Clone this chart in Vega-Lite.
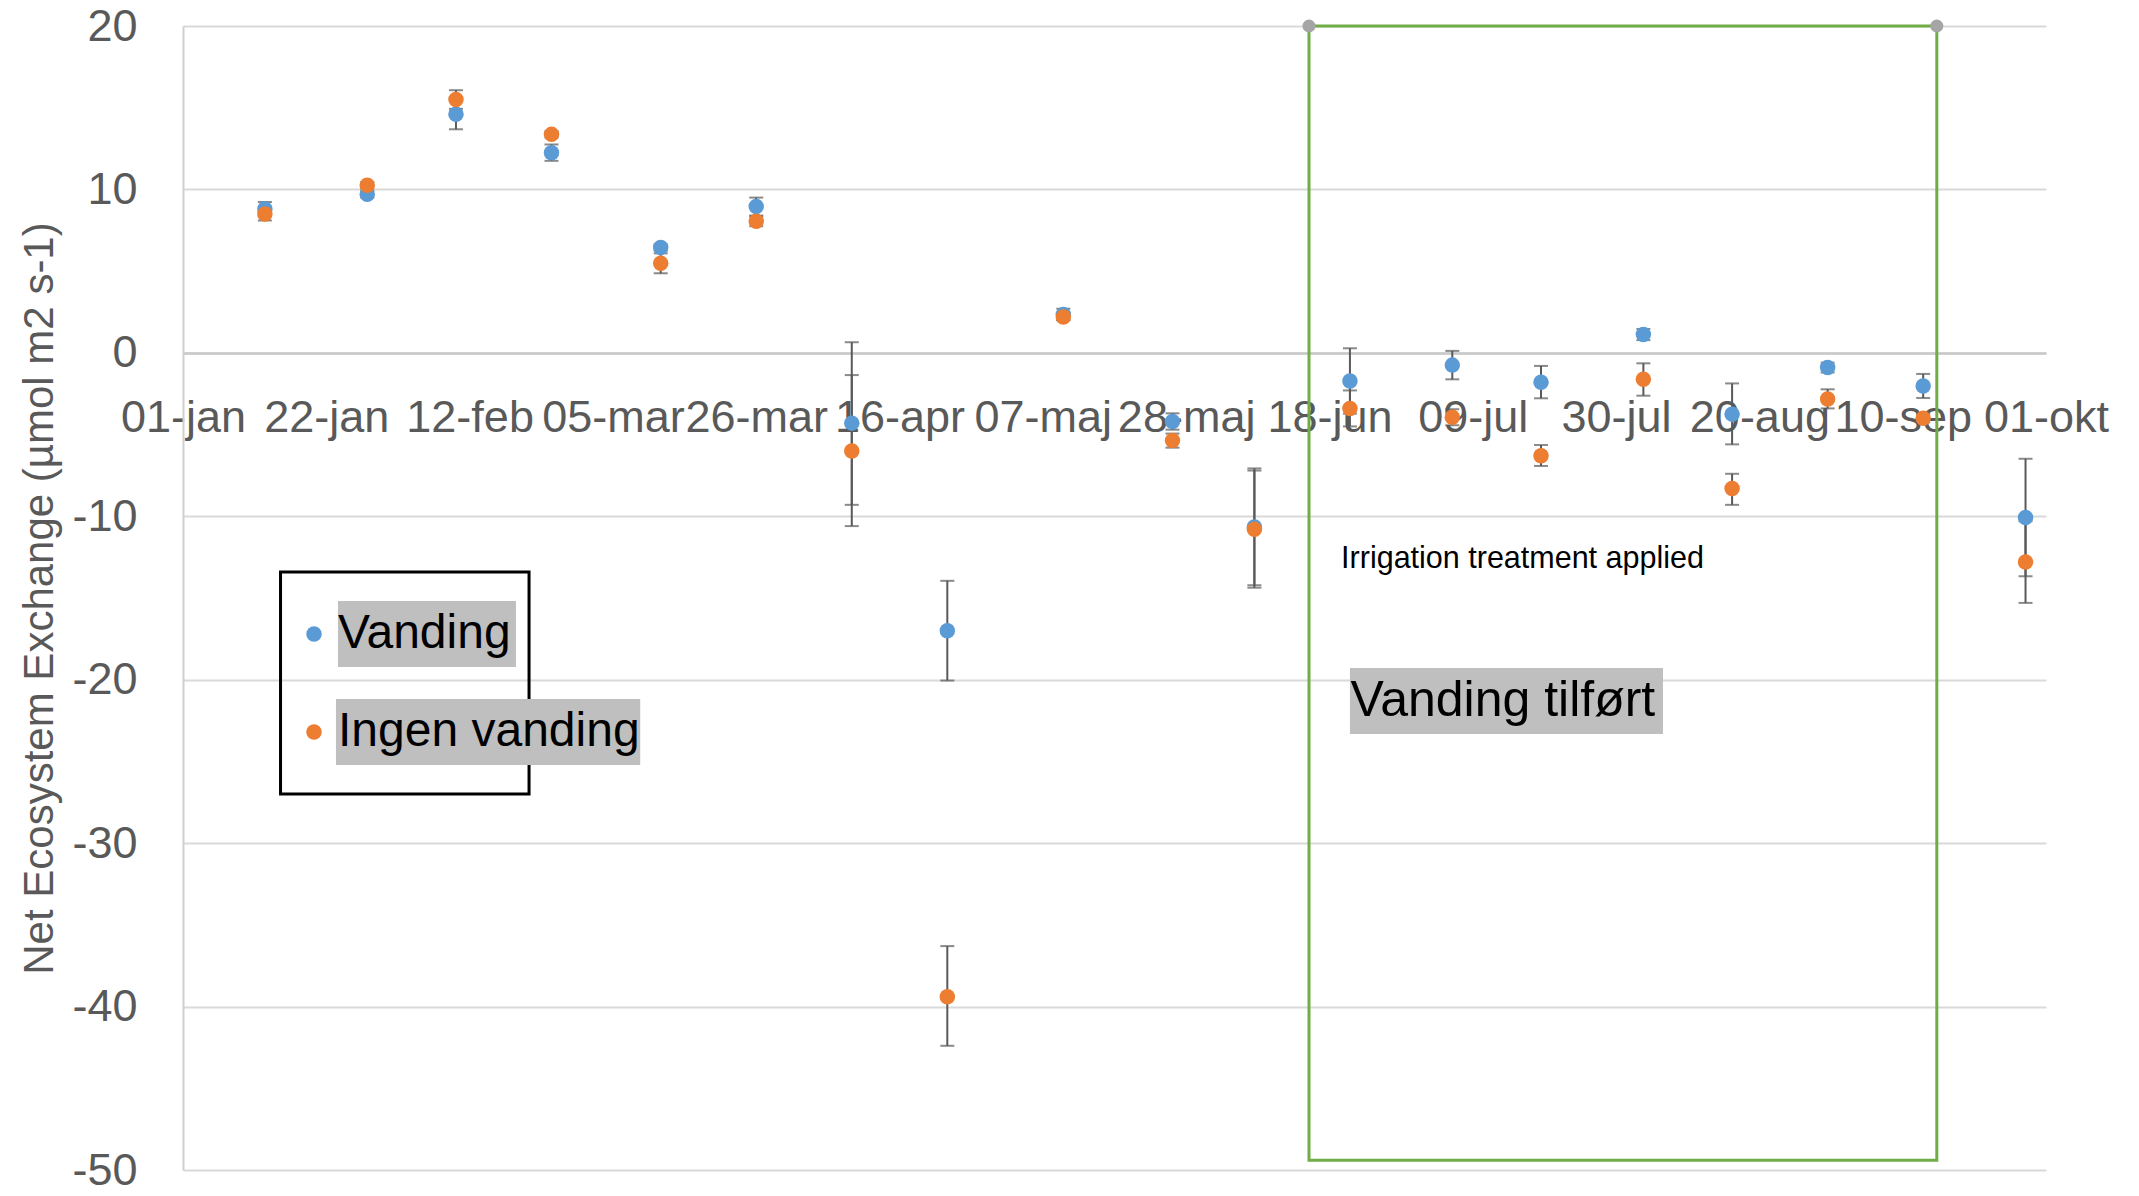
{
  "$schema": "https://vega.github.io/schema/vega-lite/v6.json",
  "width": 1863,
  "height": 1144,
  "autosize": {"type": "none"},
  "padding": {"left": 183, "top": 26, "right": 93, "bottom": 26},
  "background": "white",
  "config": {"view": {"stroke": null}, "font": "Liberation Sans"},
  "datasets": {
    "nee": [
      {"date": "2019-01-13", "series": "Vanding", "value": 8.8, "lo": 8.37, "hi": 9.23},
      {"date": "2019-01-28", "series": "Vanding", "value": 9.7, "lo": 9.5, "hi": 9.9},
      {"date": "2019-02-10", "series": "Vanding", "value": 14.6, "lo": 13.68, "hi": 15.52},
      {"date": "2019-02-24", "series": "Vanding", "value": 12.25, "lo": 11.75, "hi": 12.75},
      {"date": "2019-03-12", "series": "Vanding", "value": 6.45, "lo": 6.25, "hi": 6.65},
      {"date": "2019-03-26", "series": "Vanding", "value": 8.95, "lo": 8.4, "hi": 9.5},
      {"date": "2019-04-09", "series": "Vanding", "value": -4.3, "lo": -9.3, "hi": 0.65},
      {"date": "2019-04-23", "series": "Vanding", "value": -17.0, "lo": -20.05, "hi": -13.95},
      {"date": "2019-05-10", "series": "Vanding", "value": 2.35, "lo": 2.0, "hi": 2.7},
      {"date": "2019-05-26", "series": "Vanding", "value": -4.2, "lo": -4.7, "hi": -3.7},
      {"date": "2019-06-07", "series": "Vanding", "value": -10.65, "lo": -14.22, "hi": -7.07},
      {"date": "2019-06-21", "series": "Vanding", "value": -1.72, "lo": -3.72, "hi": 0.28},
      {"date": "2019-07-06", "series": "Vanding", "value": -0.75, "lo": -1.62, "hi": 0.12},
      {"date": "2019-07-19", "series": "Vanding", "value": -1.8, "lo": -2.78, "hi": -0.8},
      {"date": "2019-08-03", "series": "Vanding", "value": 1.12, "lo": 0.78, "hi": 1.46},
      {"date": "2019-08-16", "series": "Vanding", "value": -3.75, "lo": -5.6, "hi": -1.87},
      {"date": "2019-08-30", "series": "Vanding", "value": -0.9, "lo": -1.2, "hi": -0.6},
      {"date": "2019-09-13", "series": "Vanding", "value": -2.03, "lo": -2.76, "hi": -1.29},
      {"date": "2019-09-28", "series": "Vanding", "value": -10.07, "lo": -13.67, "hi": -6.48},
      {"date": "2019-01-13", "series": "Ingen vanding", "value": 8.5, "lo": 8.1, "hi": 8.9},
      {"date": "2019-01-28", "series": "Ingen vanding", "value": 10.25, "lo": 10.05, "hi": 10.45},
      {"date": "2019-02-10", "series": "Ingen vanding", "value": 15.5, "lo": 14.93, "hi": 16.07},
      {"date": "2019-02-24", "series": "Ingen vanding", "value": 13.37, "lo": 13.17, "hi": 13.57},
      {"date": "2019-03-12", "series": "Ingen vanding", "value": 5.48, "lo": 4.87, "hi": 6.09},
      {"date": "2019-03-26", "series": "Ingen vanding", "value": 8.05, "lo": 7.75, "hi": 8.35},
      {"date": "2019-04-09", "series": "Ingen vanding", "value": -6.0, "lo": -10.6, "hi": -1.36},
      {"date": "2019-04-23", "series": "Ingen vanding", "value": -39.4, "lo": -42.4, "hi": -36.3},
      {"date": "2019-05-10", "series": "Ingen vanding", "value": 2.2, "lo": 2.0, "hi": 2.4},
      {"date": "2019-05-26", "series": "Ingen vanding", "value": -5.37, "lo": -5.8, "hi": -4.94},
      {"date": "2019-06-07", "series": "Ingen vanding", "value": -10.8, "lo": -14.37, "hi": -7.2},
      {"date": "2019-06-21", "series": "Ingen vanding", "value": -3.4, "lo": -4.5, "hi": -2.3},
      {"date": "2019-07-06", "series": "Ingen vanding", "value": -3.94, "lo": -4.43, "hi": -3.45},
      {"date": "2019-07-19", "series": "Ingen vanding", "value": -6.29, "lo": -6.92, "hi": -5.64},
      {"date": "2019-08-03", "series": "Ingen vanding", "value": -1.62, "lo": -2.62, "hi": -0.64},
      {"date": "2019-08-16", "series": "Ingen vanding", "value": -8.3, "lo": -9.3, "hi": -7.4},
      {"date": "2019-08-30", "series": "Ingen vanding", "value": -2.82, "lo": -3.4, "hi": -2.23},
      {"date": "2019-09-13", "series": "Ingen vanding", "value": -4.0, "lo": -4.25, "hi": -3.75},
      {"date": "2019-09-28", "series": "Ingen vanding", "value": -12.8, "lo": -15.3, "hi": -10.3}
    ],
    "period": [
      {"start": "2019-06-15", "end": "2019-09-15"}
    ],
    "one": [{}]
  },
  "layer": [
    {
      "data": {"name": "period"},
      "mark": {"type": "rect", "fill": null, "fillOpacity": 0, "stroke": "#70ad47", "strokeWidth": 3},
      "encoding": {
        "x": {"field": "start", "type": "temporal", "scale": {"type": "utc", "domain": [{"year": 2019, "month": 1, "date": 1, "utc": true}, {"year": 2019, "month": 10, "date": 1, "utc": true}]}},
        "x2": {"field": "end"},
        "y": {"datum": 20, "type": "quantitative", "scale": {"domain": [-50, 20], "nice": false}},
        "y2": {"datum": -49.4}
      }
    },
    {
      "data": {"name": "period"},
      "transform": [{"fold": ["start", "end"], "as": ["edge", "edgeDate"]}],
      "mark": {"type": "circle", "size": 170, "color": "#a5a5a5", "opacity": 1},
      "encoding": {
        "x": {"field": "edgeDate", "type": "temporal", "scale": {"type": "utc", "domain": [{"year": 2019, "month": 1, "date": 1, "utc": true}, {"year": 2019, "month": 10, "date": 1, "utc": true}]}},
        "y": {"datum": 20, "type": "quantitative", "scale": {"domain": [-50, 20], "nice": false}}
      }
    },
    {
      "data": {"name": "one"},
      "mark": {"type": "rect", "fill": null, "fillOpacity": 0, "stroke": "black", "strokeWidth": 3},
      "encoding": {
        "x": {"datum": {"year": 2019, "month": 1, "date": 15, "hours": 7, "utc": true}, "type": "temporal"},
        "x2": {"datum": {"year": 2019, "month": 2, "date": 20, "hours": 17, "utc": true}},
        "y": {"datum": -13.41, "type": "quantitative"},
        "y2": {"datum": -26.99}
      }
    },
    {
      "data": {"name": "one"},
      "mark": {"type": "rect", "color": "#bfbfbf"},
      "encoding": {
        "x": {"datum": {"year": 2019, "month": 1, "date": 23, "hours": 17, "utc": true}, "type": "temporal"},
        "x2": {"datum": {"year": 2019, "month": 2, "date": 18, "hours": 19, "utc": true}},
        "y": {"datum": -15.18, "type": "quantitative"},
        "y2": {"datum": -19.22}
      }
    },
    {
      "data": {"name": "one"},
      "mark": {"type": "rect", "color": "#bfbfbf"},
      "encoding": {
        "x": {"datum": {"year": 2019, "month": 1, "date": 23, "hours": 10, "utc": true}, "type": "temporal"},
        "x2": {"datum": {"year": 2019, "month": 3, "date": 9, "hours": 0, "utc": true}},
        "y": {"datum": -21.18, "type": "quantitative"},
        "y2": {"datum": -25.22}
      }
    },
    {
      "data": {"name": "one"},
      "mark": {"type": "rect", "color": "#bfbfbf"},
      "encoding": {
        "x": {"datum": {"year": 2019, "month": 6, "date": 21, "hours": 0, "utc": true}, "type": "temporal"},
        "x2": {"datum": {"year": 2019, "month": 8, "date": 5, "hours": 21, "utc": true}},
        "y": {"datum": -19.28, "type": "quantitative"},
        "y2": {"datum": -23.32}
      }
    },
    {
      "data": {"name": "one"},
      "mark": {"type": "text", "text": "Vanding tilført", "align": "left", "baseline": "middle", "fontSize": 50, "font": "Liberation Sans", "color": "black"},
      "encoding": {
        "x": {"datum": {"year": 2019, "month": 6, "date": 21, "hours": 2, "utc": true}, "type": "temporal"},
        "y": {"datum": -21.3, "type": "quantitative"}
      }
    },
    {
      "data": {"name": "one"},
      "mark": {"type": "text", "text": "Irrigation treatment applied", "align": "left", "baseline": "middle", "fontSize": 30.5, "font": "Liberation Sans", "color": "black"},
      "encoding": {
        "x": {"datum": {"year": 2019, "month": 6, "date": 19, "hours": 17, "utc": true}, "type": "temporal"},
        "y": {"datum": -12.6, "type": "quantitative"}
      }
    },
    {
      "data": {"name": "nee"},
      "mark": {"type": "rule", "color": "#595959", "strokeWidth": 2},
      "encoding": {
        "x": {"field": "date", "type": "temporal"},
        "y": {"field": "lo", "type": "quantitative"},
        "y2": {"field": "hi"}
      }
    },
    {
      "data": {"name": "nee"},
      "transform": [{"fold": ["lo", "hi"], "as": ["bound", "boundValue"]}],
      "mark": {"type": "tick", "orient": "horizontal", "size": 14, "thickness": 2, "color": "#595959"},
      "encoding": {
        "x": {"field": "date", "type": "temporal"},
        "y": {"field": "boundValue", "type": "quantitative"}
      }
    },
    {
      "data": {"name": "nee"},
      "mark": {"type": "circle", "size": 240, "opacity": 1},
      "encoding": {
        "x": {
          "field": "date", "type": "temporal",
          "scale": {"type": "utc", "domain": [{"year": 2019, "month": 1, "date": 1, "utc": true}, {"year": 2019, "month": 10, "date": 1, "utc": true}]},
          "axis": {
            "orient": "bottom", "offset": -817, "title": null, "grid": false, "ticks": false, "tickSize": 0,
            "values": [
              {"year": 2019, "month": 1, "date": 1, "utc": true},
              {"year": 2019, "month": 1, "date": 22, "utc": true},
              {"year": 2019, "month": 2, "date": 12, "utc": true},
              {"year": 2019, "month": 3, "date": 5, "utc": true},
              {"year": 2019, "month": 3, "date": 26, "utc": true},
              {"year": 2019, "month": 4, "date": 16, "utc": true},
              {"year": 2019, "month": 5, "date": 7, "utc": true},
              {"year": 2019, "month": 5, "date": 28, "utc": true},
              {"year": 2019, "month": 6, "date": 18, "utc": true},
              {"year": 2019, "month": 7, "date": 9, "utc": true},
              {"year": 2019, "month": 7, "date": 30, "utc": true},
              {"year": 2019, "month": 8, "date": 20, "utc": true},
              {"year": 2019, "month": 9, "date": 10, "utc": true},
              {"year": 2019, "month": 10, "date": 1, "utc": true}
            ],
            "labelExpr": "utcFormat(datum.value, '%d') + '-' + ['jan','feb','mar','apr','maj','jun','jul','aug','sep','okt','nov','dec'][utcmonth(datum.value)]",
            "labelFont": "Liberation Sans", "labelFontSize": 45, "labelColor": "#595959", "labelPadding": 42,
            "labelOverlap": false, "labelBound": false, "labelFlush": false,
            "domainColor": "#c8c8c8", "domainWidth": 2.5
          }
        },
        "y": {
          "field": "value", "type": "quantitative",
          "scale": {"domain": [-50, 20], "nice": false},
          "axis": {
            "values": [-50, -40, -30, -20, -10, 0, 10, 20],
            "labelExpr": "'' + datum.value",
            "title": "Net Ecosystem Exchange (µmol m2 s-1)",
            "titleFont": "Liberation Sans", "titleFontSize": 42, "titleFontWeight": "normal", "titleColor": "#595959", "titlePadding": 10,
            "labelFont": "Liberation Sans", "labelFontSize": 45, "labelColor": "#595959", "labelPadding": 46,
            "ticks": false, "tickSize": 0,
            "grid": true, "gridColor": "#d9d9d9", "gridWidth": 2,
            "domainColor": "#d0d0d0", "domainWidth": 2
          }
        },
        "color": {
          "field": "series", "type": "nominal",
          "scale": {"domain": ["Vanding", "Ingen vanding"], "range": ["#5b9bd5", "#ed7d31"]},
          "legend": {
            "title": null, "orient": "none", "legendX": 107, "legendY": 584, "padding": 0,
            "symbolType": "circle", "symbolSize": 240, "symbolStrokeWidth": 0, "symbolOpacity": 1,
            "labelFont": "Liberation Sans", "labelFontSize": 48, "labelColor": "black", "labelOffset": 0, "labelLimit": 0,
            "rowPadding": 50, "zindex": 1
          }
        }
      }
    }
  ]
}
